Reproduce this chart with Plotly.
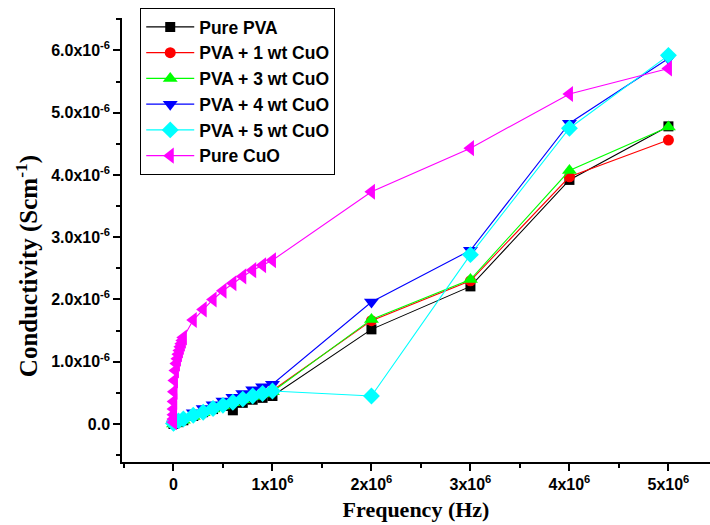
import plotly.graph_objects as go

# Frequency points (Hz)
freq_pva = [1e2, 1e4, 5e4, 1e5, 2e5, 3e5, 4e5, 5e5, 6e5, 7e5, 8e5, 9e5, 1e6,
            2e6, 3e6, 4e6, 5e6]
freq_cuo = [1e2, 2e2, 5e2, 1e3, 2e3, 5e3, 1e4, 2e4, 3e4, 4e4, 5e4, 6e4, 7e4,
            8e4, 9e4, 1e5, 2e5, 3e5, 4e5, 5e5, 6e5, 7e5, 8e5, 9e5, 1e6,
            2e6, 3e6, 4e6, 5e6]

# Conductivity in units of 1e-6 S/cm
pure_pva = [0.00, 0.01, 0.03, 0.06, 0.13, 0.19, 0.24, 0.29, 0.22, 0.34, 0.39,
            0.42, 0.45, 1.52, 2.21, 3.92, 4.78]
pva_1wt = [0.01, 0.02, 0.04, 0.07, 0.13, 0.19, 0.25, 0.30, 0.35, 0.40, 0.45,
           0.49, 0.54, 1.66, 2.30, 3.97, 4.56]
pva_3wt = [0.00, 0.01, 0.03, 0.06, 0.12, 0.18, 0.24, 0.29, 0.34, 0.39, 0.44,
           0.48, 0.52, 1.68, 2.32, 4.07, 4.77]
pva_4wt = [0.00, 0.02, 0.05, 0.10, 0.18, 0.25, 0.31, 0.37, 0.43, 0.49, 0.55,
           0.60, 0.64, 1.96, 2.79, 4.83, 5.87]
pva_5wt = [0.01, 0.03, 0.05, 0.08, 0.14, 0.19, 0.25, 0.30, 0.35, 0.40, 0.45,
           0.49, 0.53, 0.45, 2.72, 4.75, 5.92]
pure_cuo = [0.03, 0.08, 0.15, 0.24, 0.36, 0.52, 0.70, 0.86, 0.97, 1.05, 1.12,
            1.18, 1.24, 1.29, 1.34, 1.39, 1.67, 1.84, 2.00, 2.14, 2.26, 2.37,
            2.47, 2.55, 2.63, 3.73, 4.43, 5.30, 5.71]

x_tick_vals = [0, 1e6, 2e6, 3e6, 4e6, 5e6]
x_tick_text = ["0", "1x10<sup>6</sup>", "2x10<sup>6</sup>", "3x10<sup>6</sup>",
               "4x10<sup>6</sup>", "5x10<sup>6</sup>"]
y_tick_vals = [0, 1e-6, 2e-6, 3e-6, 4e-6, 5e-6, 6e-6]
y_tick_text = ["0.0", "1.0x10<sup>-6</sup>", "2.0x10<sup>-6</sup>",
               "3.0x10<sup>-6</sup>", "4.0x10<sup>-6</sup>",
               "5.0x10<sup>-6</sup>", "6.0x10<sup>-6</sup>"]

series = [
    ("Pure PVA", freq_pva, pure_pva, "#000000", "square", 10),
    ("PVA + 1 wt CuO", freq_pva, pva_1wt, "#FF0000", "circle", 11),
    ("PVA + 3 wt CuO", freq_pva, pva_3wt, "#00FF00", "triangle-up", 13),
    ("PVA + 4 wt CuO", freq_pva, pva_4wt, "#0000FF", "triangle-down", 13),
    ("PVA + 5 wt CuO", freq_pva, pva_5wt, "#00FFFF", "diamond", 13),
    ("Pure CuO", freq_cuo, pure_cuo, "#FF00FF", "triangle-left", 14),
]

fig = go.Figure()
for name, fx, fy, color, symbol, size in series:
    fig.add_trace(go.Scatter(
        x=fx,
        y=[v * 1e-6 for v in fy],
        name=name,
        mode="lines+markers",
        line=dict(color=color, width=1.1),
        marker=dict(symbol=symbol, size=size, color=color, line=dict(width=0)),
    ))

tick_font = dict(family="Arial, Liberation Sans, sans-serif", size=16,
                 color="black", weight="bold")
x_title_font = dict(family="Times New Roman, Liberation Serif, serif", size=22,
                    color="black", weight="bold")
y_title_font = dict(family="Times New Roman, Liberation Serif, serif", size=25,
                    color="black", weight="bold")

fig.update_layout(
    width=710,
    height=525,
    margin=dict(l=122, r=0, t=18, b=63),
    paper_bgcolor="white",
    plot_bgcolor="white",
    showlegend=True,
    legend=dict(
        x=0.031, y=1.0225, xanchor="left", yanchor="top",
        bordercolor="black", borderwidth=1, bgcolor="white",
        font=dict(family="Arial, Liberation Sans, sans-serif", size=17.5,
                  color="black", weight="bold"),
        itemwidth=48,
        tracegroupgap=0,
    ),
    xaxis=dict(
        range=[-0.52e6, 5.42e6],
        tickmode="array", tickvals=x_tick_vals, ticktext=x_tick_text,
        ticks="outside", ticklen=7, tickwidth=1.5, tickcolor="black",
        minor=dict(tickmode="linear", tick0=0, dtick=0.5e6, ticks="outside",
                   ticklen=4, tickwidth=1.5, tickcolor="black"),
        showline=True, linecolor="black", linewidth=1.5,
        showgrid=False, zeroline=False,
        tickfont=tick_font,
        title=dict(text="Frequency (Hz)", font=x_title_font, standoff=10),
    ),
    yaxis=dict(
        range=[-0.61e-6, 6.52e-6],
        tickmode="array", tickvals=y_tick_vals, ticktext=y_tick_text,
        ticks="outside", ticklen=7, tickwidth=1.5, tickcolor="black",
        minor=dict(tickmode="linear", tick0=0, dtick=0.5e-6, ticks="outside",
                   ticklen=4, tickwidth=1.5, tickcolor="black"),
        showline=True, linecolor="black", linewidth=1.5,
        showgrid=False, zeroline=False,
        tickfont=tick_font,
    ),
    annotations=[dict(
        text="Conductivity (Scm<sup>-1</sup>)",
        xref="paper", yref="paper",
        x=-0.1616, y=0.441,
        xanchor="center", yanchor="middle",
        textangle=-90, showarrow=False,
        font=y_title_font,
    )],
)

fig.write_html("out.html")
